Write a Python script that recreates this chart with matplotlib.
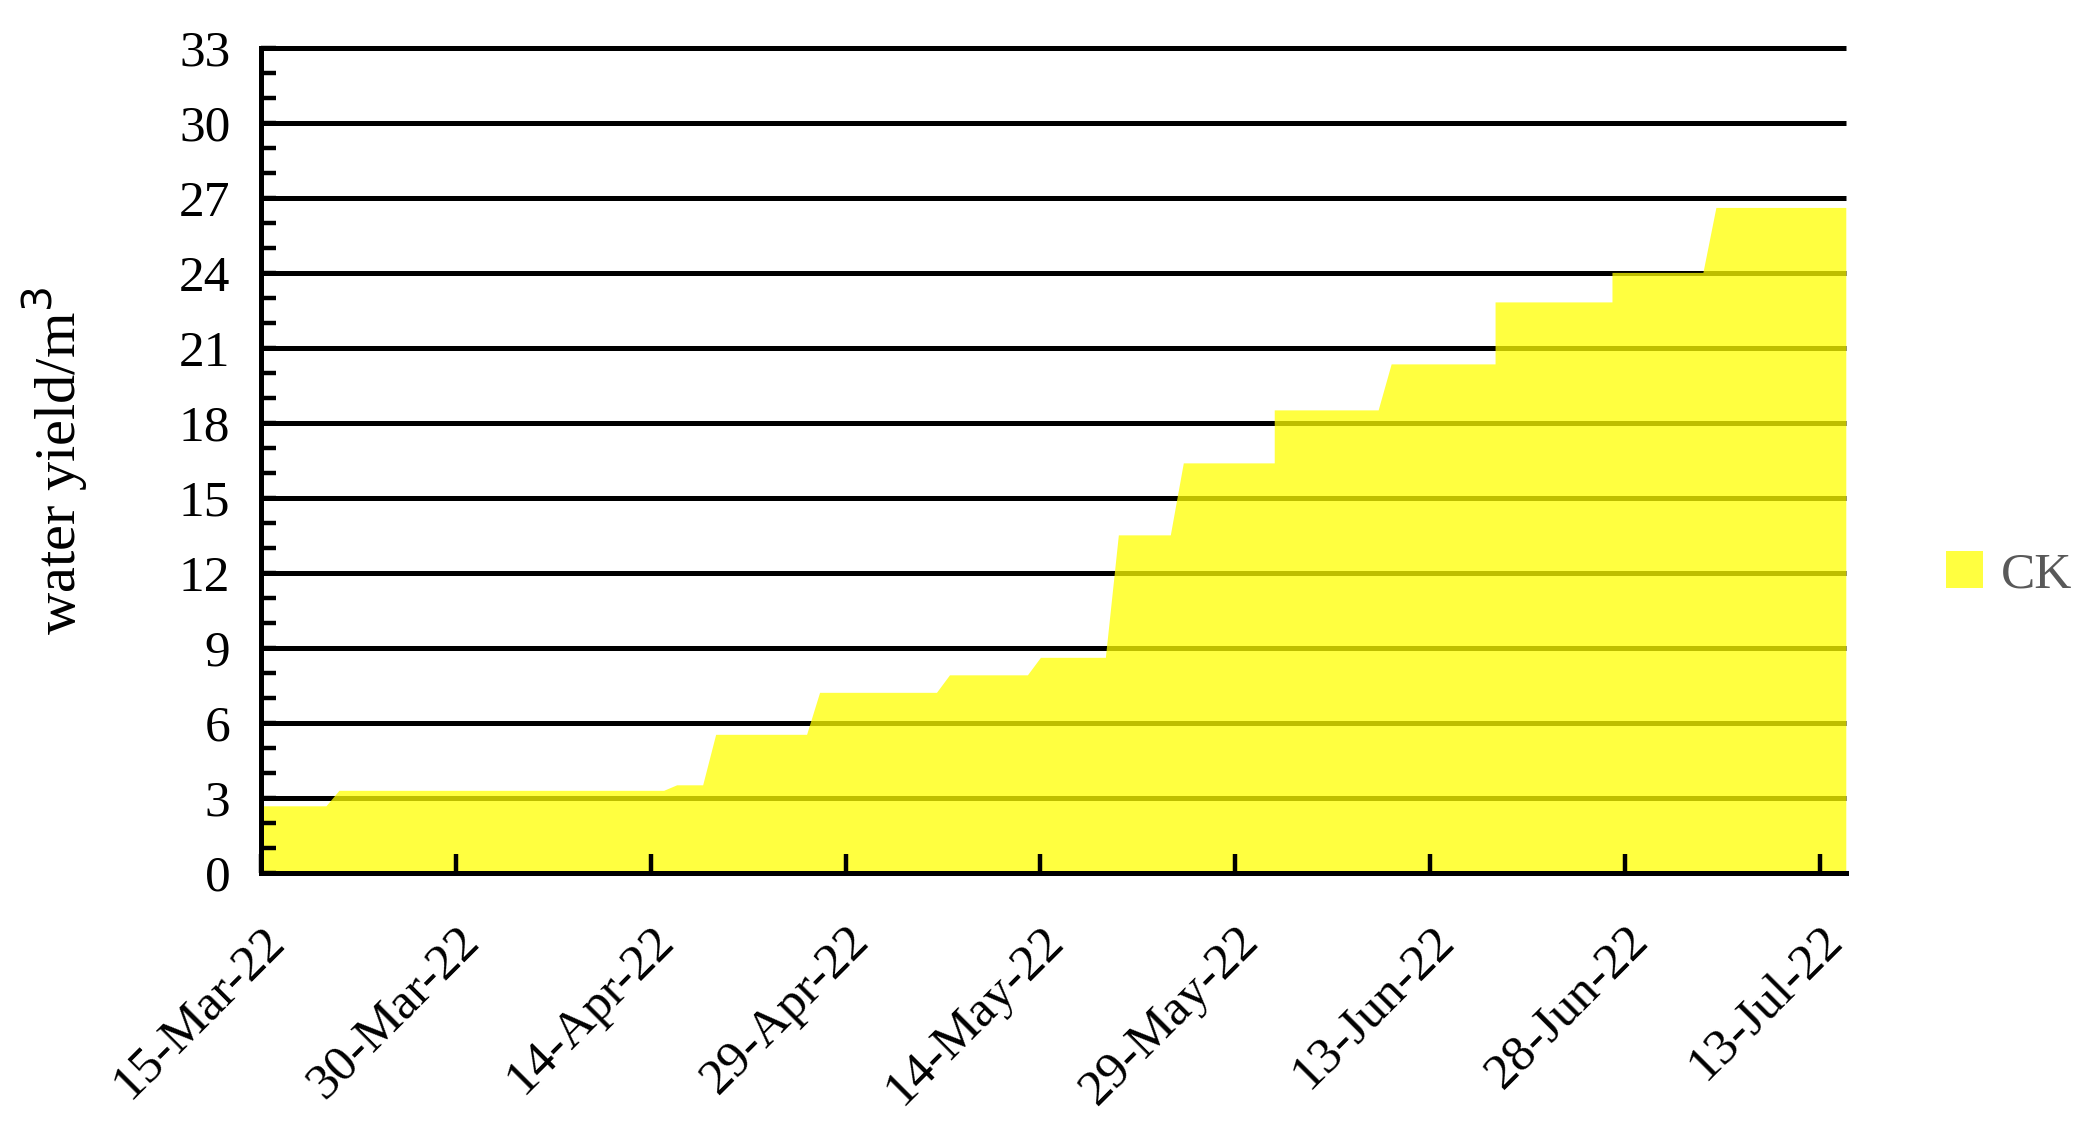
import matplotlib
matplotlib.use('Agg')
import matplotlib.pyplot as plt
import matplotlib.dates as mdates
from matplotlib.patches import Patch
import numpy as np
import pandas as pd

# breakpoints of the CK curve (date, cumulative water yield m3)
dates = ['2022-03-15', '2022-03-20', '2022-03-21', '2022-04-15', '2022-04-16',
         '2022-04-18', '2022-04-19', '2022-04-26', '2022-04-27', '2022-05-06',
         '2022-05-07', '2022-05-13', '2022-05-14', '2022-05-19', '2022-05-20',
         '2022-05-24', '2022-05-25', '2022-06-01', '2022-06-01', '2022-06-09',
         '2022-06-10', '2022-06-18', '2022-06-18', '2022-06-27', '2022-06-27',
         '2022-07-04', '2022-07-05', '2022-07-15']
ck = [2.69, 2.69, 3.31, 3.31, 3.53,
      3.53, 5.55, 5.55, 7.23, 7.23,
      7.93, 7.93, 8.63, 8.63, 13.53,
      13.53, 16.41, 16.41, 18.53, 18.53,
      20.37, 20.37, 22.85, 22.85, 24.03,
      24.03, 26.63, 26.63]
tick_dates = pd.date_range('2022-03-15', periods=9, freq='15D')
yticks = np.arange(0, 34, 3)

plt.rcParams['font.family'] = ['Liberation Serif', 'DejaVu Serif']

fig = plt.figure(figsize=(20.88, 11.21), dpi=100)
ax = fig.add_axes([0.125, 0.2212, 0.759, 0.7358])

x = pd.to_datetime(dates)
ax.fill_between(x, ck, 0, color='#ffff00', alpha=0.75, linewidth=0, zorder=1)

# horizontal gridlines sit under the translucent fill
for yv in yticks:
    ax.axhline(yv, color='black', linewidth=3.6, zorder=0.5, clip_on=False,
               solid_capstyle='butt')

ax.set_xlim(pd.Timestamp('2022-03-15'), pd.Timestamp('2022-07-15'))
ax.set_ylim(0, 33)
ax.set_yticks(yticks)
ax.set_yticks(np.arange(0, 34, 1), minor=True)
ax.set_xticks(tick_dates)
ax.xaxis.set_major_formatter(mdates.DateFormatter('%d-%b-%y'))

for s in ['top', 'right']:
    ax.spines[s].set_visible(False)
for s in ['left', 'bottom']:
    ax.spines[s].set_linewidth(3.6)
    ax.spines[s].set_zorder(3)

ax.tick_params(axis='y', which='both', direction='in', length=11, width=3.2, labelsize=37, pad=22)
ax.tick_params(axis='x', which='major', direction='in', length=14, width=3.2, labelsize=37, pad=32)
plt.setp(ax.get_xticklabels(), rotation=45, ha='right', rotation_mode='anchor')

ax.set_ylabel('water yield/m$^3$', fontsize=42, labelpad=64)

fig.legend(handles=[Patch(facecolor='#ffff00', alpha=0.75, label='CK')],
           loc='center left', bbox_to_anchor=(0.91, 0.487), frameon=False,
           fontsize=37, labelcolor='#595959', handlelength=0.72, handleheight=0.72,
           handletextpad=0.35)

fig.savefig('out.png', dpi=100)
